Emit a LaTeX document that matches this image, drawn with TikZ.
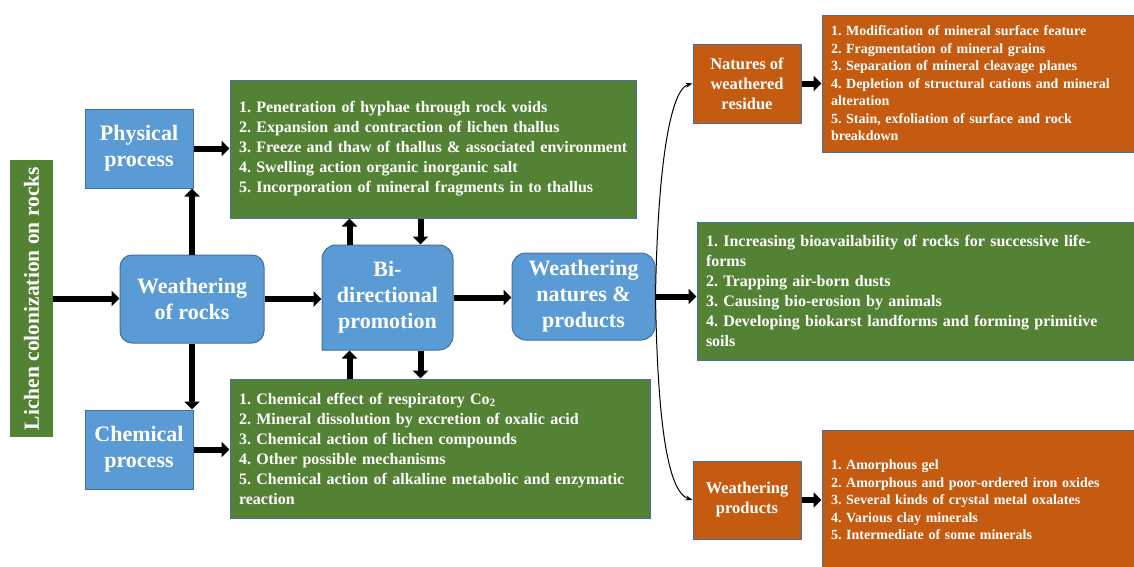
\documentclass[tikz,border=0pt]{standalone}
\usepackage{fontspec}
\setmainfont{Liberation Serif}
\usetikzlibrary{arrows.meta}
\definecolor{boxblue}{HTML}{5B9BD5}
\definecolor{edgeblue}{HTML}{41719C}
\definecolor{boxgreen}{HTML}{548235}
\definecolor{boxorange}{HTML}{C55A11}
\frenchspacing
\begin{document}
\begin{tikzpicture}
[x=1pt,y=-1pt,%
  every node/.style={text=white,font=\bfseries,inner sep=0pt},
  bluebox/.style={fill=boxblue,draw=edgeblue,line width=1pt,align=center,
    font=\bfseries\fontsize{22}{26}\selectfont},
  orangebox/.style={fill=boxorange,draw=edgeblue,line width=1pt,align=center,
    font=\bfseries\fontsize{16.5}{20}\selectfont},
  greenlist/.style={fill=boxgreen,draw=edgeblue,line width=1pt,align=left,
    inner xsep=9pt,font=\bfseries\fontsize{16}{20}\selectfont},
  orangelist/.style={fill=boxorange,draw=edgeblue,line width=1pt,align=left,
    inner xsep=9pt,font=\bfseries\fontsize{14}{17.5}\selectfont},
  bigarrow/.style={line width=6pt,-{Triangle[width=15pt,length=8pt]}},
  thinarrow/.style={line width=1pt,-{Stealth[length=7pt,width=5pt]}}]
\useasboundingbox (0,0) rectangle (1134,566);
\clip (0,0) rectangle (1134,566);
% left part
\node[fill=boxgreen,rotate=90,minimum width=277pt,minimum height=43pt,
  font=\bfseries\fontsize{21.5}{24}\selectfont] (lichen) at (31.5,298.5)
  {Lichen colonization on rocks};
\node[bluebox,rounded corners=12pt,minimum width=144pt,minimum height=88pt]
  (wrocks) at (192,299) {Weathering\\of rocks};
\node[bluebox,minimum width=108pt,minimum height=79pt] (phys) at (139,148.5)
  {Physical\\process};
\node[bluebox,minimum width=108pt,minimum height=79pt] (chem) at (139,449.5)
  {Chemical\\process};
% lists of processes
\node[greenlist,minimum width=406pt,minimum height=138pt,text width=388pt]
  (physlist) at (433,149)
  {1. Penetration of hyphae through rock voids\\
   2. Expansion and contraction of lichen thallus\\
   \mbox{3. Freeze and thaw of thallus \& associated environment}\\
   4. Swelling action organic inorganic salt\\
   5. Incorporation of mineral fragments in to thallus};
\node[greenlist,minimum width=420pt,minimum height=139pt,text width=402pt]
  (chemlist) at (440,448.5)
  {1. Chemical effect of respiratory Co\textsubscript{2}\\
   2. Mineral dissolution by excretion of oxalic acid\\
   3. Chemical action of lichen compounds\\
   4. Other possible mechanisms\\
   5. Chemical action of alkaline metabolic and enzymatic\\
   reaction};
% bi-directional box, top corners rounded
\filldraw[fill=boxblue,draw=edgeblue,line width=1pt]
  (322,350) [rounded corners=14pt] -- (322,245) -- (453,245) -- (453,350)
  [sharp corners] -- cycle;
\node[bluebox,fill=none,draw=none,minimum width=131pt,minimum height=105pt]
  (bidir) at (387.5,297.5) {Bi-\\directional\\promotion};
\node[bluebox,rounded corners=14pt,minimum width=143pt,minimum height=87pt]
  (wnp) at (583.5,296.5) {Weathering\\natures \&\\products};
% right part
\node[orangebox,minimum width=108pt,minimum height=79pt] (natures) at (747,83.5)
  {Natures of\\weathered\\residue};
\node[orangebox,minimum width=108pt,minimum height=78pt] (wprod) at (747,500)
  {Weathering\\products};
\node[orangelist,minimum width=318pt,minimum height=137pt,text width=300pt]
  (natlist) at (981,83.5)
  {1. Modification of mineral surface feature\\
   2. Fragmentation of mineral grains\\
   3. Separation of mineral cleavage planes\\
   4. Depletion of structural cations and mineral\\
   alteration\\
   5. Stain, exfoliation of surface and rock\\
   breakdown};
\node[greenlist,minimum width=443pt,minimum height=138pt,text width=425pt]
  (uselist) at (918.5,291)
  {1. Increasing bioavailability of rocks for successive life-\\
   forms\\
   2. Trapping air-born dusts\\
   3. Causing bio-erosion by animals\\
   4. Developing biokarst landforms and forming primitive\\
   soils};
\node[orangelist,minimum width=318pt,minimum height=140pt,text width=300pt]
  (prodlist) at (981,500)
  {1. Amorphous gel\\
   2. Amorphous and poor-ordered iron oxides\\
   3. Several kinds of crystal metal oxalates\\
   4. Various clay minerals\\
   5. Intermediate of some minerals};
% connectors
\coordinate (upin) at ([xshift=28pt]bidir.north west);
\coordinate (downin) at ([xshift=99pt]bidir.north west);
\coordinate (upout) at ([xshift=28pt]bidir.south west);
\coordinate (downout) at ([xshift=99pt]bidir.south west);
\draw[bigarrow] (lichen.south) -- (lichen.south -| wrocks.west);
\draw[bigarrow] (wrocks.north) -- (wrocks.north |- phys.south);
\draw[bigarrow] (wrocks.south) -- (wrocks.south |- chem.north);
\draw[bigarrow] (phys.east) -- (phys.east -| physlist.west);
\draw[bigarrow] (chem.east) -- (chem.east -| chemlist.west);
\draw[bigarrow] (wrocks.east) -- (wrocks.east -| bidir.west);
\draw[bigarrow] (upin) -- (upin |- physlist.south);
\draw[bigarrow] (downin |- physlist.south) -- (downin);
\draw[bigarrow] (upout |- chemlist.north) -- (upout);
\draw[bigarrow] (downout) -- (downout |- chemlist.north);
\draw[bigarrow] (bidir.east) -- (bidir.east -| wnp.west);
\draw[bigarrow] (wnp.east) -- (wnp.east -| uselist.west);
\draw[thinarrow] (wnp.east) .. controls +(2,-125) and +(-23,6) .. (natures.west);
\draw[thinarrow] (wnp.east) .. controls +(2,125) and +(-25,-8) .. (wprod.west);
\draw[bigarrow] (natures.east) -- (natures.east -| natlist.west);
\draw[bigarrow] (wprod.east) -- (wprod.east -| prodlist.west);
\end{tikzpicture}
\end{document}
